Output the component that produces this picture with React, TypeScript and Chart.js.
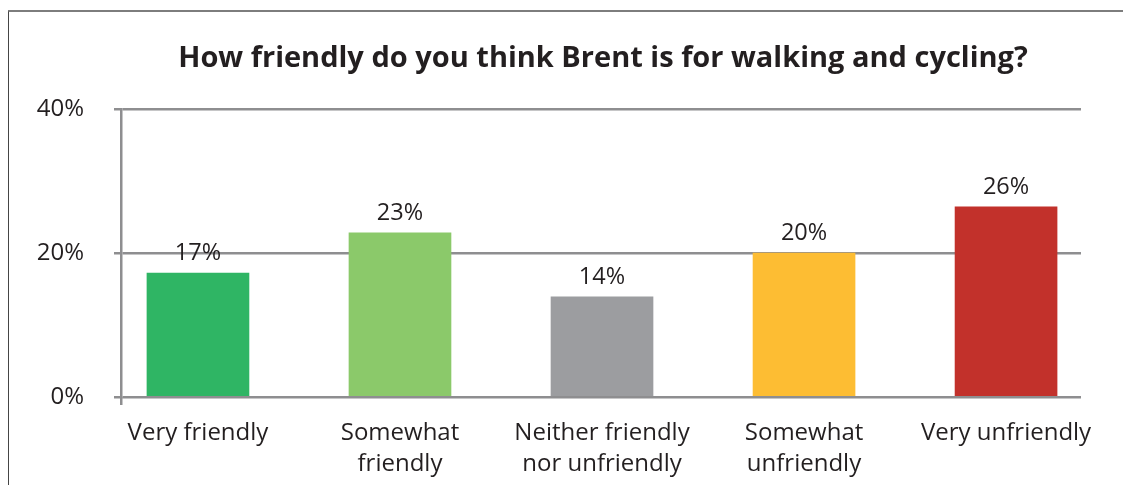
import React, { useEffect, useRef } from "react";
import { Chart, registerables } from "chart.js";

Chart.register(...registerables);

const TITLE = "How friendly do you think Brent is for walking and cycling?";
const categories: string[][] = [
  ["Very friendly"],
  ["Somewhat", "friendly"],
  ["Neither friendly", "nor unfriendly"],
  ["Somewhat", "unfriendly"],
  ["Very unfriendly"],
];
const values = [17.2, 22.8, 13.9, 20.0, 26.4];
const barColors = ["#2fb564", "#8bc96a", "#9c9da0", "#fdbd33", "#c2312b"];
const yTicks = [0, 20, 40];

const FONT = "'Open Sans', Lato, sans-serif";
const TEXT = "#231f20";
const GRID = "#8e8e90";

const X_MIN = -0.381;
const X_MAX = 4.371;

export default function App() {
  const ref = useRef<HTMLCanvasElement | null>(null);

  useEffect(() => {
    if (!ref.current) return;
    const titlePlugin = {
      id: "centerTitle",
      afterDraw(chart: any) {
        const { ctx, chartArea } = chart;
        ctx.save();
        ctx.font = `bold 29px ${FONT}`;
        ctx.fillStyle = TEXT;
        ctx.textAlign = "center";
        ctx.textBaseline = "alphabetic";
        ctx.fillText(TITLE, (chartArea.left + chartArea.right) / 2 + 2, 55);
        ctx.restore();
      },
    };
    const labelPlugin = {
      id: "barLabels",
      afterDatasetsDraw(chart: any) {
        const { ctx } = chart;
        const meta = chart.getDatasetMeta(0);
        ctx.save();
        ctx.font = `23.5px ${FONT}`;
        ctx.fillStyle = TEXT;
        ctx.textAlign = "center";
        ctx.textBaseline = "alphabetic";
        meta.data.forEach((el: any, i: number) => {
          ctx.fillText(Math.round(values[i]) + "%", el.x, el.y - 13);
        });
        ctx.restore();
      },
    };
    const chart = new Chart(ref.current, {
      type: "bar",
      data: {
        datasets: [
          {
            data: values.map((v, i) => ({ x: i, y: v })),
            backgroundColor: barColors,
            barThickness: 102,
            borderWidth: 0,
          },
        ],
      },
      options: {
        animation: false,
        responsive: false,
        maintainAspectRatio: false,
        layout: { padding: { top: 97, right: 50, left: 0, bottom: 0 } },
        plugins: {
          legend: { display: false },
          title: { display: false },
          tooltip: { enabled: false },
        },
        scales: {
          x: {
            type: "linear",
            offset: false,
            min: X_MIN,
            max: X_MAX,
            afterBuildTicks: (scale: any) => {
              scale.ticks = [{ value: X_MIN }, ...categories.map((_, i) => ({ value: i }))];
            },
            afterFit: (scale: any) => {
              scale.height = 88;
            },
            grid: {
              display: true,
              offset: false,
              drawOnChartArea: false,
              drawTicks: true,
              tickLength: 8,
              lineWidth: 2.5,
              color: (ctx: any) => (ctx.index === 0 ? GRID : "rgba(0,0,0,0)"),
            },
            border: { display: false },
            ticks: {
              autoSkip: false,
              maxRotation: 0,
              padding: 13,
              color: TEXT,
              font: { family: FONT, size: 24, lineHeight: 1.29 },
              callback: (v: any) => {
                const idx = Math.round(Number(v));
                if (Math.abs(Number(v) - idx) > 0.01) return "";
                return categories[idx] || "";
              },
            },
          },
          y: {
            min: 0,
            max: 40,
            afterBuildTicks: (scale: any) => {
              scale.ticks = yTicks.map((v) => ({ value: v }));
            },
            afterFit: (scale: any) => {
              scale.width = 112;
            },
            grid: {
              color: GRID,
              lineWidth: 2.5,
              tickLength: 7,
            },
            border: { display: true, color: GRID, width: 2.5 },
            ticks: {
              padding: 30,
              color: TEXT,
              font: { family: FONT, size: 24 },
              callback: (v: any) => v + "%",
            },
          },
        },
      },
      plugins: [titlePlugin, labelPlugin],
    } as any);
    return () => chart.destroy();
  }, []);

  return (
    <div
      style={{
        marginTop: 2,
        marginLeft: -1,
        marginRight: -8,
        height: 473,
        borderTop: "2px solid #7d7d7d",
        borderLeft: "2px solid #454545",
        overflow: "hidden",
      }}
    >
      <canvas ref={ref} width={1122} height={473} style={{ display: "block" }} />
    </div>
  );
}
